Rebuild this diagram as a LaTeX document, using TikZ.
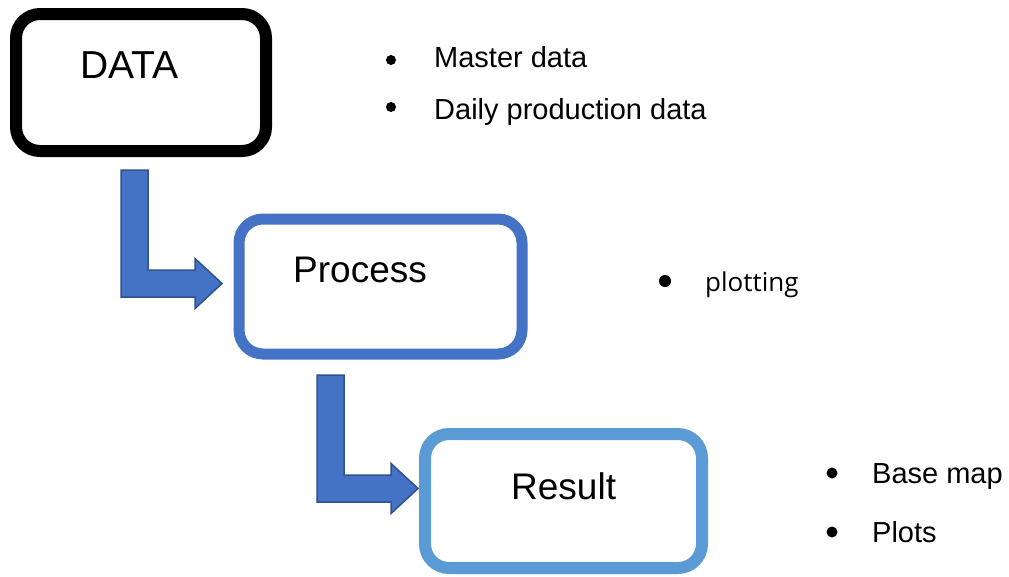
\documentclass[tikz,border=0pt]{standalone}
\usepackage{fontspec}
\setmainfont{Liberation Sans}
\newfontfamily\uifont{Open Sans}
\usepackage{tikz}
\usepackage{xcolor}
\definecolor{blueA}{HTML}{4472C4}
\definecolor{blueB}{HTML}{5B9BD5}
\definecolor{blueEdge}{HTML}{2F528F}
\tikzset{
  stage/.style={draw,rounded corners=24pt,fill=white,inner sep=0pt},
  title/.style={inner sep=0pt,anchor=base west,font=\fontsize{37}{44}\selectfont},
  item/.style={inner sep=0pt,anchor=base west,font=\fontsize{29}{35}\selectfont},
  dot/.style={circle,fill=black,inner sep=0pt,minimum size=#1},
  dot/.default=10pt
}

\begin{document}
\begin{tikzpicture}[x=1pt,y=-1pt]
    \useasboundingbox (0,0) rectangle (1009,576);
    % bent block arrows
    \foreach \xa/\ya/\yb/\xt in {121/170/270/222,317/375/475/418}{
    \draw[fill=blueA,draw=blueEdge,line width=1.5pt,line join=miter]
      (\xa,\ya) -- (\xa+27,\ya) -- (\xa+27,\yb) -- (\xt-27,\yb) -- (\xt-27,\yb-11.5)
      -- (\xt,\yb+13.5) -- (\xt-27,\yb+38.5) -- (\xt-27,\yb+27) -- (\xa,\yb+27) -- cycle;
    }
    % stages
    \node[stage,line width=12pt,draw=black,minimum width=250pt,minimum height=137pt] (data) at (141,82.5) {};
    \node[stage,line width=11pt,draw=blueA,minimum width=283pt,minimum height=135pt] (process) at (380.5,286.5) {};
    \node[stage,line width=12pt,draw=blueB,minimum width=277pt,minimum height=134pt] (result) at (563.5,501) {};
    \node[title,font=\fontsize{39}{46}\selectfont] (data-lbl) at (80,78) {DATA};
    \node[title] (process-lbl) at (293,282) {Process};
    \node[title] (result-lbl) at (511,499) {Result};
    % bullet lists
    \node[dot] (b-master) at (391,60) {};
    \node[item] (master) at (434,67) {Master data};
    \node[dot] (b-daily) at (391,107) {};
    \node[item] (daily) at (434,119) {Daily production data};
    \node[dot=12pt] (b-plot) at (665,281) {};
    \node[item,font=\uifont\fontsize{26}{32}\selectfont] (plot) at (705,291) {plotting};
    \node[dot=11pt] (b-base) at (832,473) {};
    \node[item] (base) at (872,483) {Base map};
    \node[dot=11pt] (b-plots) at (832,532) {};
    \node[item] (plots) at (872,542) {Plots};
\end{tikzpicture}
\end{document}
